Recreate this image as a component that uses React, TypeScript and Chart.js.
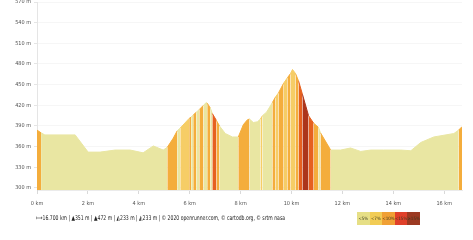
import React, { useEffect, useRef } from "react";
import { Chart, registerables } from "chart.js";

Chart.register(...registerables);

// distance along the route (km)
const distanceKm = [
  0.0, 0.16, 0.31, 1.5, 2.01, 2.48, 3.07, 3.66, 4.17, 4.57, 4.96,
  5.12, 5.35, 5.51, 5.63, 5.98, 6.06, 6.14, 6.26, 6.38, 6.54, 6.65, 6.69,
  6.81, 6.89, 7.05, 7.17, 7.4, 7.68, 7.91, 8.11, 8.27, 8.35, 8.5, 8.66,
  8.78, 8.86, 9.02, 9.25, 9.37, 9.49, 9.69, 9.84, 9.96, 10.04, 10.16,
  10.28, 10.43, 10.67, 10.87, 11.06, 11.14, 11.54, 11.93, 12.32, 12.72,
  13.11, 13.62, 14.29, 14.69, 15.08, 15.59, 16.38, 16.57, 16.7,
];
// elevation (m)
const elevationM = [
  384, 380, 377, 377, 352, 352, 355, 355, 351, 361, 355,
  359, 372, 383, 387, 401, 403, 406, 410, 414, 420, 424, 423,
  416, 408, 398, 390, 379, 374, 374, 392, 399, 400, 395, 396,
  400, 405, 410, 424, 432, 438, 452, 460, 466, 472, 466,
  455, 436, 405, 394, 388, 380, 355, 355, 358, 353,
  355, 355, 355, 354, 366, 374, 379, 384, 389,
];
// slope class of the segment starting at each point (0:<5% 1:<7% 2:<10% 3:<15% 4:>=15%)
const slopeClass = [
  2, 0, 0, 0, 0, 0, 0, 0, 0, 0, 0,
  2, 2, 0, 1, 2, 0, 2, 0, 2, 0, 0, 2,
  0, 3, 2, 0, 0, 0, 2, 2, 2, 0, 0, 0,
  1, 0, 0, 2, 1, 2, 1, 2, 1, 1, 2,
  3, 4, 3, 2, 0, 2, 0, 0, 0, 0,
  0, 0, 0, 0, 0, 0, 0, 2, 2,
];
const slopeColors = ["#e9e6a2", "#f6cd66", "#f4ad3c", "#e6601f", "#ac351b"];
const legendColors = ["#e6df86", "#f2cc55", "#f0a035", "#e0402a", "#9c3a22"];
const slopeLabels = ["<5%", "<7%", "<10%", "<15%", "≥15%"];

const xTickValues = [0, 2, 4, 6, 8, 10, 12, 14, 16];
const yTickValues = [300, 330, 360, 390, 420, 450, 480, 510, 540, 570];

const summaryText =
  "⟼16.700 km | ▲351 m | ▲472 m | ◭233 m | ◭233 m | © 2020 openrunner.com, © cartodb.org, © srtm nasa";

const fontFamily = "'DejaVu Sans Condensed', 'Liberation Sans', sans-serif";
const tickFont = { family: fontFamily, size: 5.5 };

export default function App() {
  const ref = useRef<HTMLCanvasElement | null>(null);

  useEffect(() => {
    if (!ref.current) return;
    const points = distanceKm.map((d, i) => ({ x: d, y: elevationM[i] }));
    const chart = new Chart(ref.current, {
      type: "line",
      data: {
        datasets: [
          {
            data: points,
            fill: "start",
            borderWidth: 1,
            pointRadius: 0,
            tension: 0,
            borderColor: slopeColors[0],
            backgroundColor: slopeColors[0],
            segment: {
              backgroundColor: (c: any) => slopeColors[slopeClass[c.p0DataIndex]],
              borderColor: (c: any) => slopeColors[slopeClass[c.p0DataIndex]],
            },
          },
        ],
      },
      options: {
        animation: false,
        responsive: false,
        events: [],
        layout: { padding: { left: 0, right: 11, top: 8, bottom: 30 } },
        plugins: { legend: { display: false }, tooltip: { enabled: false } },
        scales: {
          x: {
            type: "linear",
            min: 0,
            max: 16.7,
            afterBuildTicks: (axis: any) => {
              axis.ticks = xTickValues.map((v) => ({ value: v }));
            },
            afterFit: (axis: any) => {
              axis.height = 20;
            },
            grid: { color: "rgba(0,0,0,0.04)", tickLength: 4, drawOnChartArea: false, tickColor: "rgba(0,0,0,0.15)" },
            border: { color: "rgba(0,0,0,0.08)" },
            ticks: {
              font: tickFont,
              color: "#505050",
              padding: 6,
              maxRotation: 0,
              autoSkip: false,
              callback: (v: any) => `${v} km`,
            },
          },
          y: {
            type: "linear",
            min: 297,
            max: 570,
            afterBuildTicks: (axis: any) => {
              axis.ticks = yTickValues.map((v) => ({ value: v }));
            },
            afterFit: (axis: any) => {
              axis.width = 37;
            },
            grid: { color: "rgba(0,0,0,0.035)", tickLength: 3, tickColor: "rgba(0,0,0,0.1)" },
            border: { color: "rgba(0,0,0,0.1)" },
            ticks: {
              font: tickFont,
              color: "#505050",
              padding: 3,
              autoSkip: false,
              callback: (v: any) => `${v} m`,
            },
          },
        },
      },
    });
    return () => chart.destroy();
  }, []);

  return (
    <div
      style={{
        position: "fixed",
        left: 0,
        top: 0,
        width: 473,
        height: 240,
        overflow: "hidden",
        background: "#fff",
      }}
    >
      <canvas
        ref={ref}
        width={473}
        height={246}
        style={{ position: "absolute", left: 0, top: -6, width: 473, height: 246 }}
      />
      <div
        style={{
          position: "absolute",
          left: 36,
          top: 214,
          whiteSpace: "nowrap",
          fontFamily,
          fontSize: 6.5,
          color: "#222",
          transform: "scaleX(0.78)",
          transformOrigin: "left top",
        }}
      >
        {summaryText}
      </div>
      <div
        style={{
          position: "absolute",
          left: 357,
          top: 212,
          height: 13,
          display: "flex",
        }}
      >
        {slopeLabels.map((l, i) => (
          <div
            key={l}
            style={{
              width: 12.6,
              height: 13,
              background: legendColors[i],
              fontFamily,
              fontSize: 4.5,
              color: "#3a3a20",
              lineHeight: "13px",
              textAlign: "center",
              overflow: "visible",
              whiteSpace: "nowrap",
            }}
          >
            {l}
          </div>
        ))}
      </div>
    </div>
  );
}
